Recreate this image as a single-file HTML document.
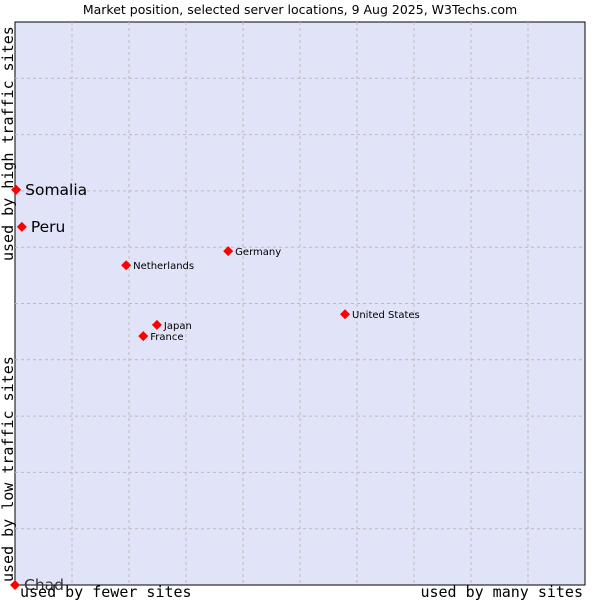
<!DOCTYPE html>
<html><head><meta charset="utf-8"><style>
body{margin:0;background:#fff}
svg{display:block}
</style></head><body>
<svg width="600" height="600" viewBox="0 0 600 600">
<text x="300" y="14" text-anchor="middle" font-family="DejaVu Sans, sans-serif" font-size="12.5" fill="#000">Market position, selected server locations, 9 Aug 2025, W3Techs.com</text>
<rect x="15" y="22" width="570" height="563" fill="#e1e3f8" stroke="#000" stroke-width="1"/>
<g id="grid"></g>
<g id="points"></g>
<text x="20" y="597" font-family="DejaVu Sans Mono, monospace" font-size="15">used by fewer sites</text>
<text x="583" y="597" text-anchor="end" font-family="DejaVu Sans Mono, monospace" font-size="15">used by many sites</text>
<text transform="translate(13,582) rotate(-90)" font-family="DejaVu Sans Mono, monospace" font-size="15">used by low traffic sites</text>
<text transform="translate(13,261) rotate(-90)" font-family="DejaVu Sans Mono, monospace" font-size="15">used by high traffic sites</text>
</svg>
<script>
const names=["Somalia","Peru","Netherlands","Germany","United States","Japan","France","Chad"];
const xVals=[0.2,1.2,19.5,37.4,57.9,24.9,22.5,0];
const yVals=[70.2,63.6,56.8,59.3,48.1,46.2,44.2,0];
const bigLabel=[true,true,false,false,false,false,false,true];
const NS="http://www.w3.org/2000/svg";
const L=15,R=585,T=22,B=585;
const sx=v=>L+v/100*(R-L);
const sy=v=>B-v/100*(B-T);
const grid=document.getElementById('grid');
for(let i=1;i<10;i++){
  const gx=document.createElementNS(NS,'line');
  gx.setAttribute('x1',sx(i*10));gx.setAttribute('x2',sx(i*10));
  gx.setAttribute('y1',T);gx.setAttribute('y2',B);
  gx.setAttribute('stroke','#bbb');gx.setAttribute('stroke-dasharray','3,3');
  
  
  grid.appendChild(gx);
  const gy=document.createElementNS(NS,'line');
  gy.setAttribute('y1',sy(i*10));gy.setAttribute('y2',sy(i*10));
  gy.setAttribute('x1',L);gy.setAttribute('x2',R);
  gy.setAttribute('stroke','#bbb');gy.setAttribute('stroke-dasharray','3,3');
  
  
  grid.appendChild(gy);
}
const pts=document.getElementById('points');
names.forEach((n,i)=>{
  const x=sx(xVals[i]),y=sy(yVals[i]);
  const d=document.createElementNS(NS,'path');
  d.setAttribute('d',`M${x} ${y-5}L${x+5} ${y}L${x} ${y+5}L${x-5} ${y}Z`);
  d.setAttribute('fill','#f00');
  
  
  pts.appendChild(d);
  const t=document.createElementNS(NS,'text');
  t.setAttribute('x',x+(bigLabel[i]?9:7));
  t.setAttribute('y',y+(bigLabel[i]?5:4));
  t.setAttribute('font-family','DejaVu Sans, sans-serif');
  t.setAttribute('font-size',bigLabel[i]?'15.5':'10');
  t.setAttribute('fill',n==='Chad'?'#333':'#000');
  t.textContent=n;
  
  
  pts.appendChild(t);
});
</script>
</body></html>
